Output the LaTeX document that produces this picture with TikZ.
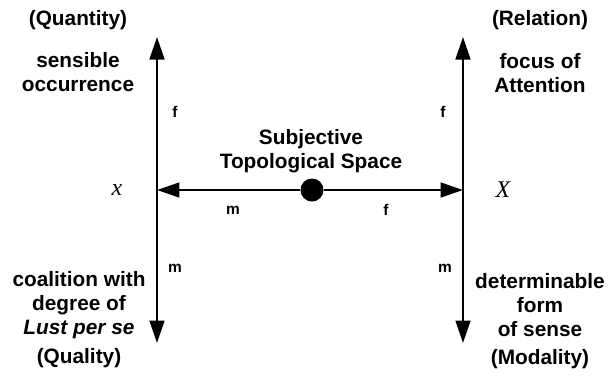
\documentclass[tikz,border=0pt]{standalone}
\usepackage{fontspec}
\setmainfont{Liberation Sans}
\newfontfamily\timesfont{Liberation Serif}
\usetikzlibrary{arrows.meta, positioning}

\tikzset{
  axisarrow/.style={line width=1.8pt, -{Triangle[length=16pt, width=10.5pt]}},
  biglabel/.style={font=\fontsize{14.8}{17}\selectfont\bfseries, align=center},
  smalllabel/.style={font=\fontsize{11}{12}\selectfont\bfseries},
  varlabel/.style={font=\fontsize{17}{17}\selectfont\timesfont\itshape},
}

\begin{document}
\begin{tikzpicture}[x=0.025cm, y=-0.025cm]
  \useasboundingbox (0,0) rectangle (608,378);
  % axis ends
  \coordinate (qtop) at (157,37);
  \coordinate (qbot) at (157,343);
  \coordinate (rtop) at (463,37);
  \coordinate (rbot) at (463,343);
  \coordinate (xleft) at (157,190);
  \coordinate (xright) at (463,190);
  \node[circle, fill=black, inner sep=0pt, minimum size=0.575cm] (sts) at (312,190) {};

  \draw[axisarrow] (xleft) -- (qtop);
  \draw[axisarrow] (xleft) -- (qbot);
  \draw[axisarrow] (xright) -- (rtop);
  \draw[axisarrow] (xright) -- (rbot);
  \draw[axisarrow] (sts) -- (xleft);
  \draw[axisarrow] (sts) -- (xright);

  % corner texts
  \foreach \nm/\x/\cat/\ycat/\desc/\ydesc in {
      quantity/78/{(Quantity)}/20/{sensible\\occurrence}/72,
      relation/540/{(Relation)}/20/{focus of\\Attention}/73,
      quality/79/{(Quality)}/358/{coalition with\\degree of\\\textit{Lust per se}}/305,
      modality/540/{(Modality)}/359/{determinable\\form\\of sense}/305}
  {
    \node[biglabel] (\nm-cat) at (\x,\ycat) {\cat};
    \node[biglabel] (\nm-desc) at (\x,\ydesc) {\desc};
  }

  \node[biglabel] (sts-lbl) at (311,151) {Subjective\\Topological Space};
  \node[varlabel] (xsmall) at (117,190) {x};
  \node[varlabel] (xbig) at (503,190) {X};

  % arrow letters
  \node[smalllabel] (lf) at (175,112) {f};
  \node[smalllabel] (rf) at (443,112) {f};
  \node[smalllabel] (lm) at (175,268) {m};
  \node[smalllabel] (rm) at (445,268) {m};
  \node[smalllabel] (hm) at (233,210) {m};
  \node[smalllabel] (hf) at (386,210) {f};
\end{tikzpicture}
\end{document}
